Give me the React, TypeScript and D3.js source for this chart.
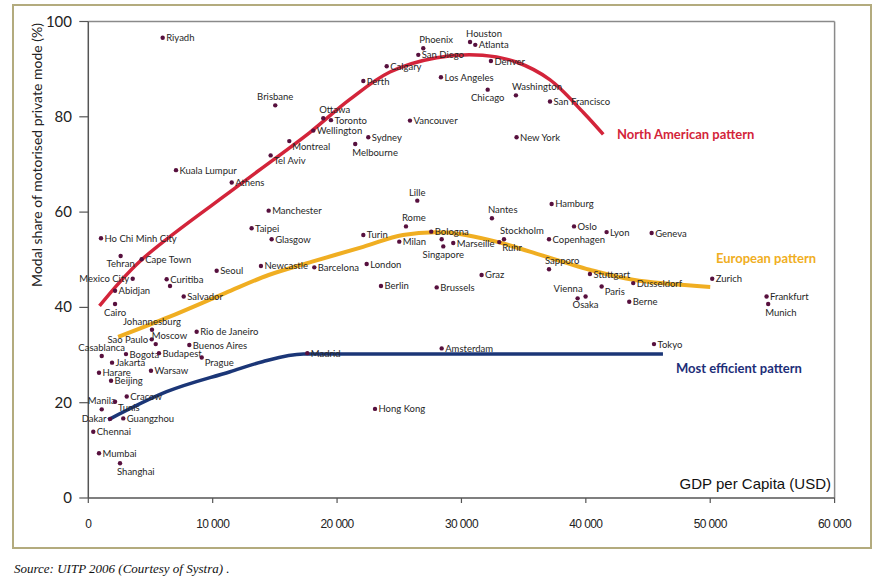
import React from "react";
import * as d3 from "d3";

const xTicks = [0, 10000, 20000, 30000, 40000, 50000, 60000];
const xTickLabels = ["0", "10 000", "20 000", "30 000", "40 000", "50 000", "60 000"];
const yTicks = [0, 20, 40, 60, 80, 100];

// [name, GDP per capita (USD), modal share (%), label placement]
const cities: [string, number, number, string][] = [
  ["Riyadh", 5980, 96.6, "r"],
  ["Brisbane", 15030, 82.4, "t"],
  ["Kuala Lumpur", 7050, 68.8, "r"],
  ["Athens", 11530, 66.2, "r"],
  ["Montreal", 16160, 74.9, "br"],
  ["Tel Aviv", 14660, 71.9, "br"],
  ["Ottawa", 18890, 79.7, "tr"],
  ["Toronto", 19510, 79.3, "r"],
  ["Wellington", 18090, 77.1, "r"],
  ["Sydney", 22510, 75.7, "r"],
  ["Melbourne", 21460, 74.3, "bs"],
  ["Perth", 22110, 87.5, "r"],
  ["Calgary", 23990, 90.6, "r"],
  ["Vancouver", 25860, 79.2, "r"],
  ["Phoenix", 26930, 94.4, "tr"],
  ["San Diego", 26530, 93.0, "r"],
  ["Los Angeles", 28350, 88.3, "r"],
  ["Houston", 30690, 95.7, "tr"],
  ["Atlanta", 31110, 95.1, "r"],
  ["Denver", 32370, 91.7, "r"],
  ["Chicago", 32110, 85.7, "b"],
  ["Washington", 34380, 84.5, "tr"],
  ["San Francisco", 37120, 83.2, "r"],
  ["New York", 34430, 75.7, "r"],
  ["Ho Chi Minh City", 1020, 54.5, "r"],
  ["Tehran", 2600, 50.8, "b"],
  ["Cape Town", 4290, 50.1, "r"],
  ["Mexico City", 3570, 46.0, "l"],
  ["Abidjan", 2150, 43.5, "r"],
  ["Cairo", 2150, 40.7, "b"],
  ["Curitiba", 6300, 45.9, "r"],
  ["", 6570, 44.5, "n"],
  ["Seoul", 10320, 47.7, "r"],
  ["Salvador", 7670, 42.3, "r"],
  ["Manchester", 14500, 60.3, "r"],
  ["Taipei", 13130, 56.6, "r"],
  ["Glasgow", 14740, 54.3, "r"],
  ["Newcastle", 13880, 48.7, "r"],
  ["Johannesburg", 5120, 35.3, "t"],
  ["Rio de Janeiro", 8710, 34.9, "r"],
  ["Sao Paulo", 5100, 33.3, "l"],
  ["Moscow", 5420, 32.3, "tr"],
  ["Buenos Aires", 8120, 32.1, "r"],
  ["Casablanca", 1080, 29.8, "t"],
  ["Bogota", 3030, 30.2, "r"],
  ["Budapest", 5680, 30.4, "r"],
  ["Prague", 9120, 29.5, "br"],
  ["Jakarta", 1910, 28.4, "r"],
  ["Harare", 860, 26.3, "r"],
  ["Warsaw", 5040, 26.7, "r"],
  ["Beijing", 1830, 24.6, "r"],
  ["Manila", 1080, 18.6, "t"],
  ["Cracow", 3090, 21.3, "r"],
  ["Tunis", 2150, 20.2, "br"],
  ["Dakar", 1750, 16.6, "l"],
  ["Guangzhou", 2810, 16.7, "r"],
  ["Chennai", 400, 13.9, "r"],
  ["Mumbai", 860, 9.4, "r"],
  ["Shanghai", 2550, 7.3, "bs"],
  ["Barcelona", 18170, 48.4, "r"],
  ["Turin", 22110, 55.2, "r"],
  ["London", 22380, 49.1, "r"],
  ["Berlin", 23530, 44.5, "r"],
  ["Lille", 26450, 62.4, "t"],
  ["Rome", 25540, 57.0, "tr"],
  ["Milan", 25000, 53.8, "r"],
  ["Bologna", 27570, 55.9, "r"],
  ["", 28410, 54.3, "n"],
  ["Singapore", 28540, 52.8, "b"],
  ["Marseille", 29340, 53.5, "r"],
  ["Brussels", 28010, 44.2, "r"],
  ["Graz", 31620, 46.8, "r"],
  ["Nantes", 32450, 58.7, "tr"],
  ["Stockholm", 33420, 54.3, "tr"],
  ["Ruhr", 33040, 53.7, "br"],
  ["Hamburg", 37250, 61.7, "r"],
  ["Oslo", 39050, 57.0, "r"],
  ["Copenhagen", 37040, 54.3, "r"],
  ["Lyon", 41670, 55.8, "r"],
  ["Geneva", 45290, 55.6, "r"],
  ["Sapporo", 37040, 48.0, "tr"],
  ["Stuttgart", 40330, 47.0, "r"],
  ["Dusseldorf", 43810, 45.1, "r"],
  ["Zurich", 50160, 46.0, "r"],
  ["Vienna", 39340, 41.9, "tl"],
  ["Osaka", 39980, 42.3, "b"],
  ["Paris", 41270, 44.4, "br"],
  ["Berne", 43490, 41.2, "r"],
  ["Frankfurt", 54530, 42.3, "r"],
  ["Munich", 54660, 40.7, "bs"],
  ["Madrid", 17610, 30.4, "r"],
  ["Amsterdam", 28410, 31.4, "r"],
  ["Hong Kong", 23050, 18.7, "r"],
  ["Tokyo", 45480, 32.3, "r"],
];

const northAmericanCurve: [number, number][] = [
  [900, 40.3], [4200, 49.8], [12200, 65.8], [17800, 76.7],
  [21000, 83.6], [24250, 89.4], [28000, 92.4], [31700, 92.9], [34400, 91.5],
  [37100, 87.8], [39800, 80.9], [41400, 76.3],
];
const europeanCurve: [number, number][] = [
  [2400, 33.8], [6500, 38.0], [11000, 43.0], [14500, 46.8], [18000, 49.6],
  [22100, 52.7], [25300, 55.2], [28800, 55.7], [32800, 53.8], [35500, 51.7],
  [40300, 47.9], [43800, 45.8], [50000, 44.3],
];
const efficientCurve: [number, number][] = [
  [1600, 16.4], [6300, 22.3], [11400, 26.5], [14000, 28.6], [17300, 30.2],
  [22100, 30.2], [46200, 30.2],
];

const patternLabels: [string, number, number, string][] = [
  ["North American pattern", 42500, 76.3, "#d3243a"],
  ["European pattern", 50460, 50.2, "#f0ae22"],
  ["Most efficient pattern", 47240, 27.1, "#1d2e78"],
];

const labelFont = "Lato, 'DejaVu Sans', sans-serif";

function labelAttrs(pos: string) {
  switch (pos) {
    case "l": return { anchor: "end", dx: -3.5, dy: 3.5 };
    case "t": return { anchor: "middle", dx: 0, dy: -5 };
    case "b": return { anchor: "middle", dx: 0, dy: 11.5 };
    case "tr": return { anchor: "start", dx: -4, dy: -5 };
    case "br": return { anchor: "start", dx: 3, dy: 9 };
    case "bs": return { anchor: "start", dx: -3, dy: 12 };
    case "tl": return { anchor: "end", dx: 5, dy: -6 };
    default: return { anchor: "start", dx: 3.5, dy: 3.5 };
  }
}

export default function App() {
  const x = d3.scaleLinear().domain([0, 60000]).range([88.3, 834.6]);
  const y = d3.scaleLinear().domain([0, 100]).range([498, 21.5]);
  const smooth = d3
    .line<[number, number]>()
    .x((d) => x(d[0]))
    .y((d) => y(d[1]))
    .curve(d3.curveCatmullRom.alpha(0.5));
  const mono = d3
    .line<[number, number]>()
    .x((d) => x(d[0]))
    .y((d) => y(d[1]))
    .curve(d3.curveMonotoneX);

  const curves: [string, string, number][] = [
    [smooth(northAmericanCurve) || "", "#d3243a", 3.5],
    [smooth(europeanCurve) || "", "#f0ae22", 4],
    [mono(efficientCurve) || "", "#1b3677", 3.5],
  ];

  return (
    <svg
      width={882}
      height={577}
      style={{ position: "absolute", left: 0, top: 0, background: "#fff" }}
    >
      <rect x={13} y={5} width={858} height={543} fill="#fff" stroke="#b3ab7e" strokeWidth={2} />

      {/* plot frame */}
      <line x1={x(0)} x2={x(60000)} y1={y(100)} y2={y(100)} stroke="#8a8a8a" strokeWidth={1.5} />
      <line x1={x(60000)} x2={x(60000)} y1={y(100)} y2={y(0)} stroke="#8a8a8a" strokeWidth={1.5} />
      <line x1={x(0)} x2={x(60000)} y1={y(0)} y2={y(0)} stroke="#555" strokeWidth={1.5} />
      <line x1={x(0)} x2={x(0)} y1={y(100)} y2={y(0)} stroke="#555" strokeWidth={1.5} />

      {xTicks.map((t, i) => (
        <g key={"xt" + i}>
          <line x1={x(t)} x2={x(t)} y1={y(0)} y2={y(0) + 5} stroke="#555" strokeWidth={1.2} />
          <text
            x={x(t)}
            y={528}
            textAnchor="middle"
            fontFamily="'Liberation Sans', Arial, sans-serif"
            fontSize={12}
            letterSpacing={-0.6}
            fill="#222"
          >
            {xTickLabels[i]}
          </text>
        </g>
      ))}
      {yTicks.map((t, i) => (
        <g key={"yt" + i}>
          <line x1={x(0) - 9} x2={x(0)} y1={y(t)} y2={y(t)} stroke="#555" strokeWidth={1.2} />
          <text
            x={72}
            y={y(t) + 5}
            textAnchor="end"
            fontFamily={labelFont}
            fontSize={15}
            fill="#222"
          >
            {t}
          </text>
        </g>
      ))}

      <text
        transform="translate(42,155) rotate(-90)"
        textAnchor="middle"
        fontFamily={labelFont}
        fontSize={14}
        fill="#222"
      >
        Modal share of motorised private mode (%)
      </text>

      <text
        x={831}
        y={489}
        textAnchor="end"
        fontFamily="'Liberation Sans', Arial, sans-serif"
        fontSize={15}
        fill="#111"
      >
        GDP per Capita (USD)
      </text>

      {curves.map(([d, color, w], i) => (
        <path
          key={"c" + i}
          d={d}
          fill="none"
          stroke={color}
          strokeWidth={w}
          strokeLinecap="butt"
        />
      ))}

      {cities.map(([name, gx, gy, pos], i) => {
        const a = labelAttrs(pos);
        return (
          <g key={"p" + i}>
            <circle cx={x(gx)} cy={y(gy)} r={2.2} fill="#57103e" />
            {pos !== "n" && (
              <text
                x={x(gx) + a.dx}
                y={y(gy) + a.dy}
                textAnchor={a.anchor as any}
                fontFamily={labelFont}
                fontSize={9.5}
                fill="#262626"
              >
                {name}
              </text>
            )}
          </g>
        );
      })}

      {patternLabels.map(([name, gx, gy, color], i) => (
        <text
          key={"pl" + i}
          x={x(gx)}
          y={y(gy) + 4.5}
          fontFamily={labelFont}
          fontWeight="bold"
          fontSize={13}
          fill={color}
        >
          {name}
        </text>
      ))}

      <text
        x={14}
        y={573}
        fontFamily="'Liberation Serif', 'Times New Roman', serif"
        fontStyle="italic"
        fontSize={13}
        fill="#111"
      >
        Source: UITP 2006 (Courtesy of Systra) .
      </text>
    </svg>
  );
}
